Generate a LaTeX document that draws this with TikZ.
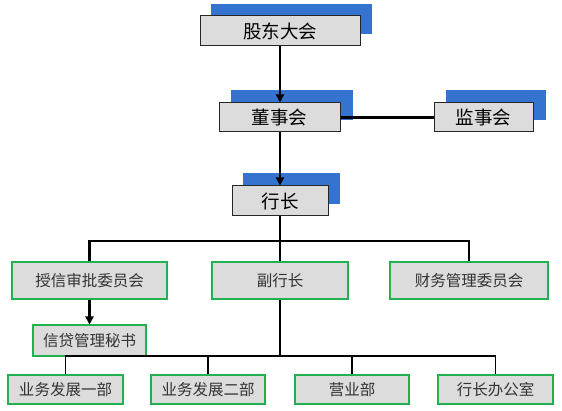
\documentclass[tikz,border=0pt]{standalone}
\usepackage{fontspec}
\newfontfamily\cjk{Noto Sans CJK SC}
\usetikzlibrary{arrows.meta}
\definecolor{shadowblue}{HTML}{3474D0}
\definecolor{boxgray}{HTML}{DCDCDC}
\definecolor{boxgreen}{HTML}{22B050}
\definecolor{txtgray}{HTML}{333333}
\begin{document}
\begin{tikzpicture}[x=1pt,y=-1pt,
  topbox/.style={draw=black!85,line width=1pt,fill=boxgray,minimum height=30pt,inner sep=0pt,font=\cjk\fontsize{18.5}{18.5}\selectfont},
  grnbox/.style={draw=boxgreen,line width=2pt,fill=boxgray,inner sep=0pt,text=txtgray,font=\cjk\fontsize{15.5}{15.5}\selectfont},
  shade/.style={fill=shadowblue,draw=none},
  conn/.style={draw=black,line width=2.1pt},
  thin/.style={draw=black,line width=1.6pt},
  arr/.style={-{Triangle[width=8pt,length=8pt]}}]
\useasboundingbox (0,0) rectangle (562,411);
% blue shadows
\fill[shade] (211,4) rectangle (372,34);
\fill[shade] (231,90) rectangle (353,120);
\fill[shade] (446,90) rectangle (546,120);
\fill[shade] (243,173) rectangle (340,204);
% top boxes
\node[topbox,minimum width=160pt] (gd) at (280,31) {股东大会};
\node[topbox,minimum width=121pt,minimum height=29pt] (dsh) at (279.5,117.5) {董事会};
\node[topbox,minimum width=99pt,minimum height=29pt] (jsh) at (483.5,117.5) {监事会};
\node[topbox,minimum width=96pt] (hz) at (280,201) {行长};
% middle row
\node[grnbox,minimum width=155pt,minimum height=37pt] (sx) at (89.5,280.5) {授信审批委员会};
\node[grnbox,minimum width=136pt,minimum height=37pt] (fhz) at (280,280.5) {副行长};
\node[grnbox,minimum width=158pt,minimum height=37pt] (cw) at (469,280.5) {财务管理委员会};
\node[grnbox,minimum width=113pt,minimum height=31pt] (xd) at (89.5,341) {信贷管理秘书};
% bottom row
\node[grnbox,minimum width=115pt,minimum height=29pt] (b1) at (65.5,389.5) {业务发展一部};
\node[grnbox,minimum width=114pt,minimum height=29pt] (b2) at (208,389.5) {业务发展二部};
\node[grnbox,minimum width=114pt,minimum height=29pt] (b3) at (352,389.5) {营业部};
\node[grnbox,minimum width=115pt,minimum height=29pt] (b4) at (495.5,389.5) {行长办公室};
% junctions
\coordinate (j1) at (280,241);
\coordinate (j2) at (280,356);
% connectors
\draw[conn,arr] (gd.south) -- (gd.south |- dsh.north);
\draw[conn] (dsh.east) -- (jsh.west);
\draw[conn,arr] (dsh.south -| gd.south) -- (gd.south |- hz.north);
\draw[conn] (hz.south) -- (j1);
\draw[conn] (sx.north) |- (j1) -| (cw.north);
\draw[conn] (j1) -- (fhz.north);
\draw[conn,arr] (sx.south) -- (xd.north);
\draw[thin] (fhz.south) -- (j2);
\draw[thin] (b1.north) |- (j2) -| (b4.north);
\draw[thin] (b2.north) -- (b2.north |- j2);
\draw[thin] (b3.north) -- (b3.north |- j2);
\end{tikzpicture}
\end{document}
